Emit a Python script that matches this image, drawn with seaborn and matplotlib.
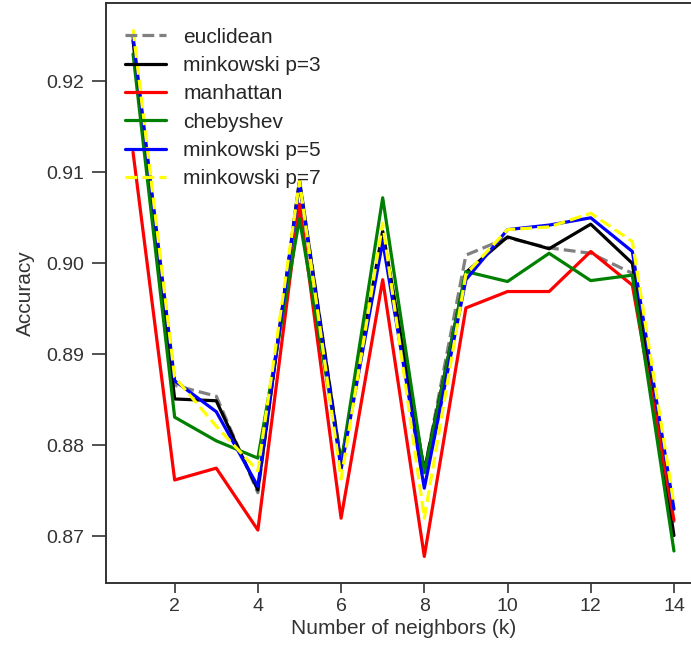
import matplotlib
matplotlib.use('Agg')
import matplotlib.pyplot as plt
import seaborn as sns
import pandas as pd

# accuracy per number of neighbours
k_values = list(range(1, 15))
euclidean = [0.9245, 0.8866, 0.8854, 0.8748, 0.9092, 0.8782, 0.9035, 0.8772, 0.9009, 0.9028, 0.9017, 0.9011, 0.8989, 0.8715]
minkowski_p3 = [0.9245, 0.8851, 0.8849, 0.8751, 0.9090, 0.8780, 0.9035, 0.8772, 0.8990, 0.9029, 0.9016, 0.9043, 0.9000, 0.8701]
manhattan = [0.9122, 0.8762, 0.8775, 0.8707, 0.9065, 0.8720, 0.8982, 0.8678, 0.8951, 0.8969, 0.8969, 0.9013, 0.8976, 0.8718]
chebyshev = [0.9230, 0.8831, 0.8805, 0.8786, 0.9049, 0.8780, 0.9072, 0.8770, 0.8991, 0.8980, 0.9011, 0.8981, 0.8987, 0.8684]
minkowski_p5 = [0.9249, 0.8871, 0.8837, 0.8755, 0.9088, 0.8774, 0.9024, 0.8753, 0.8982, 0.9037, 0.9042, 0.9050, 0.9013, 0.8730]
minkowski_p7 = [0.9257, 0.8875, 0.8821, 0.8772, 0.9090, 0.8763, 0.9044, 0.8720, 0.8988, 0.9037, 0.9040, 0.9055, 0.9024, 0.8735]

series = [
    ('euclidean', euclidean, 'gray', '--'),
    ('minkowski p=3', minkowski_p3, 'black', '-'),
    ('manhattan', manhattan, 'red', '-'),
    ('chebyshev', chebyshev, 'green', '-'),
    ('minkowski p=5', minkowski_p5, 'blue', '-'),
    ('minkowski p=7', minkowski_p7, 'yellow', '--'),
]

sns.set_style('ticks')
plt.rcParams['font.family'] = ['Liberation Sans', 'DejaVu Sans']
plt.rcParams['axes.edgecolor'] = '#333333'

fig = plt.figure(figsize=(6.91, 6.55), dpi=100)
ax = fig.add_axes([106 / 691, 1 - 582.8 / 655, 595 / 691, 579.8 / 655])

for name, vals, color, ls in series:
    df = pd.DataFrame({'k': k_values, 'acc': vals})
    sns.lineplot(data=df, x='k', y='acc', ax=ax, color=color, linestyle=ls,
                 linewidth=2.3, label=name)

ax.set_xticks([2, 4, 6, 8, 10, 12, 14])
ax.set_yticks([0.87, 0.88, 0.89, 0.90, 0.91, 0.92])
ax.set_yticklabels(['0.87', '0.88', '0.89', '0.90', '0.91', '0.92'])
ax.tick_params(labelsize=14, width=1.2, colors='#333333')
ax.tick_params(axis='y', length=10, pad=6)
ax.tick_params(axis='x', length=7, pad=4)
ax.set_xlabel('Number of neighbors (k)', fontsize=15, color='#333333', labelpad=3)
ax.set_ylabel('Accuracy', fontsize=15, color='#333333', labelpad=8)
for sp in ax.spines.values():
    sp.set_linewidth(1.4)

ax.legend(loc='upper left', bbox_to_anchor=(0.0, 0.99), frameon=False,
          fontsize=15, handlelength=2.0, labelspacing=0.45)

fig.savefig('out.png', dpi=100)
